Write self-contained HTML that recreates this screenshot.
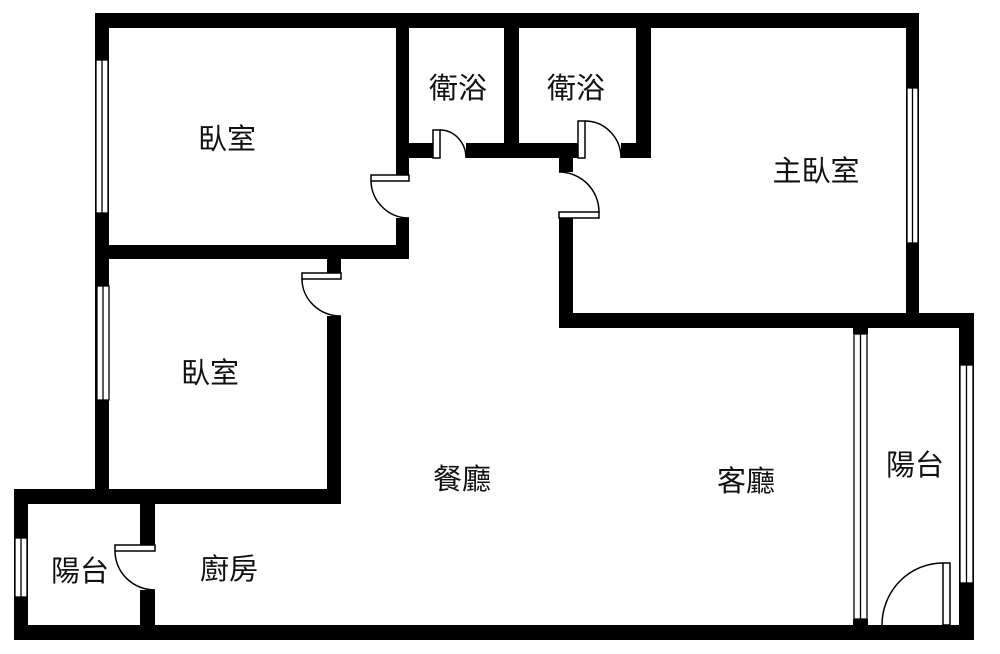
<!DOCTYPE html>
<html><head><meta charset="utf-8"><style>
html,body{margin:0;padding:0;background:#fff;}
svg{display:block;}
text{font-family:"Liberation Sans","Noto Sans CJK TC",sans-serif;font-size:29px;fill:#111;text-anchor:middle;dominant-baseline:central;}
</style></head><body>
<svg width="1000" height="654" viewBox="0 0 1000 654" xmlns="http://www.w3.org/2000/svg">
<rect width="1000" height="654" fill="#fff"/>
<g fill="#000">
<rect x="95" y="13" width="824" height="15"/>
<rect x="95" y="13" width="14" height="491"/>
<rect x="396" y="13" width="13" height="162"/>
<rect x="396" y="218" width="13" height="41"/>
<rect x="95" y="245" width="314" height="14"/>
<rect x="504" y="13" width="15" height="145"/>
<rect x="396" y="143" width="37" height="15"/>
<rect x="466" y="143" width="112" height="15"/>
<rect x="621" y="143" width="30" height="15"/>
<rect x="636" y="13" width="15" height="145"/>
<rect x="559" y="143" width="14" height="29"/>
<rect x="559" y="218" width="14" height="110"/>
<rect x="559" y="313" width="415" height="15"/>
<rect x="906" y="13" width="13" height="315"/>
<rect x="327" y="259" width="14" height="14"/>
<rect x="327" y="316" width="14" height="188"/>
<rect x="14" y="489" width="327" height="15"/>
<rect x="14" y="489" width="14" height="151"/>
<rect x="140" y="489" width="15" height="56"/>
<rect x="140" y="590" width="15" height="50"/>
<rect x="14" y="625" width="960" height="15"/>
<rect x="959" y="313" width="15" height="327"/>
<rect x="853" y="328" width="15" height="6"/>
<rect x="853" y="619" width="15" height="6"/>
</g>
<g fill="#fff" stroke="#000" stroke-width="1.3">
<rect x="96" y="60" width="12" height="153"/>
<line x1="102" y1="60" x2="102" y2="213"/>
<rect x="97" y="286" width="12" height="114"/>
<line x1="103" y1="286" x2="103" y2="400"/>
<rect x="15" y="538" width="12" height="59"/>
<line x1="21" y1="538" x2="21" y2="597"/>
<rect x="907" y="88" width="11" height="155"/>
<line x1="912.5" y1="88" x2="912.5" y2="243"/>
<rect x="960" y="365" width="13" height="218"/>
<line x1="966.5" y1="365" x2="966.5" y2="583"/>
<rect x="854" y="334" width="13" height="285"/>
<line x1="860.5" y1="334" x2="860.5" y2="619"/>
</g>
<g fill="none" stroke="#000" stroke-width="1.5">
<rect x="371" y="175" width="38" height="6" fill="#fff"/>
<path d="M371 181 A38 38 0 0 0 409 218"/>
<rect x="433" y="130" width="7" height="28" fill="#fff"/>
<path d="M440 130 A26 28 0 0 1 466 158"/>
<rect x="578" y="121" width="7" height="37" fill="#fff"/>
<path d="M585 121 A36 37 0 0 1 621 158"/>
<rect x="559" y="212" width="40" height="6" fill="#fff"/>
<path d="M559 172 A40 40 0 0 1 599 212"/>
<rect x="302" y="273" width="39" height="6" fill="#fff"/>
<path d="M302 279 A39 37 0 0 0 341 316"/>
<rect x="115" y="545" width="40" height="6" fill="#fff"/>
<path d="M115 551 A40 39 0 0 0 155 590"/>
<rect x="943" y="563" width="7" height="62" fill="#fff"/>
<path d="M943 563 A61 62 0 0 0 882 625"/>
</g>
<text x="227" y="140">臥室</text>
<text x="458" y="89">衛浴</text>
<text x="576" y="89">衛浴</text>
<text x="816" y="172">主臥室</text>
<text x="210" y="374">臥室</text>
<text x="462" y="480">餐廳</text>
<text x="746" y="482">客廳</text>
<text x="915" y="466">陽台</text>
<text x="80" y="572">陽台</text>
<text x="229" y="570">廚房</text>
</svg>
</body></html>
